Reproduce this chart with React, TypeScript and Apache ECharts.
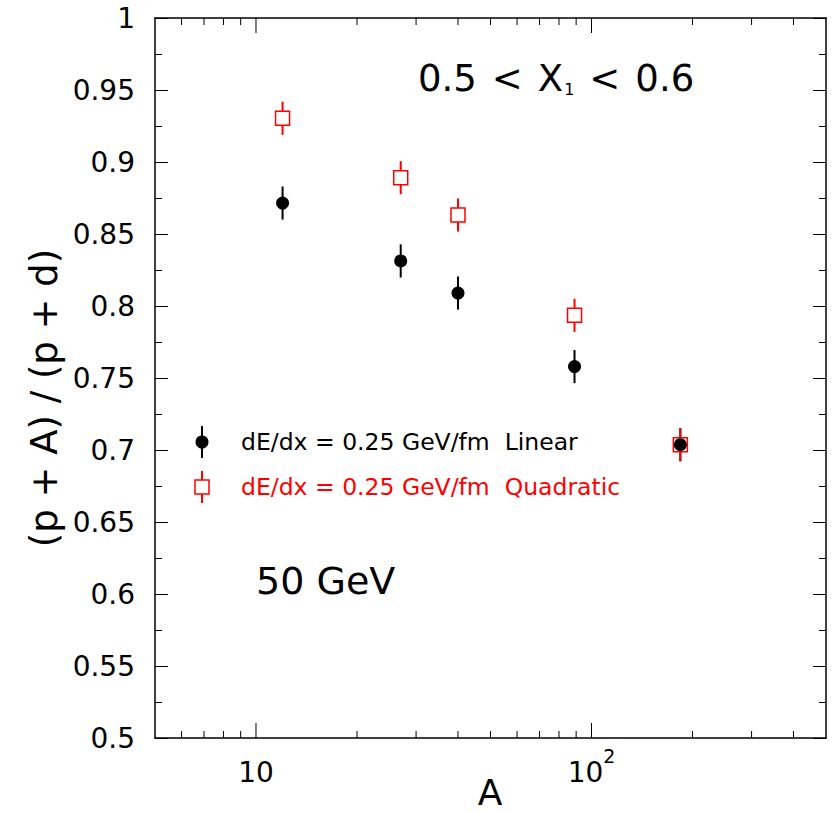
import React, { useEffect, useRef } from "react";
import * as echarts from "echarts";

const massNumbers = [12, 27, 40, 89, 184];
const linearValues = [0.8715, 0.8313, 0.809, 0.7579, 0.7037];
const linearErrors = [0.0115, 0.0115, 0.0115, 0.0115, 0.0115];
const quadraticValues = [0.9304, 0.8891, 0.8632, 0.7935, 0.7037];
const quadraticErrors = [0.0115, 0.0115, 0.0115, 0.0115, 0.0115];
const xMinorTicks = [6, 7, 8, 9, 20, 30, 40, 50, 60, 70, 80, 90, 200, 300, 400];
const xMajorTicks = [10, 100];
const legendLabels = ["dE/dx = 0.25 GeV/fm  Linear", "dE/dx = 0.25 GeV/fm  Quadratic"];

const FONT = "DejaVu Sans";

export default function App() {
  const ref = useRef<HTMLDivElement>(null);
  useEffect(() => {
    if (!ref.current) return;
    const chart = echarts.init(ref.current, null, { renderer: "svg" });
    const tickData = [
      ...xMinorTicks.map((v) => [v, 0.75, 7]),
      ...xMajorTicks.map((v) => [v, 0.75, 15]),
    ];
    const errItem = (color: string) => (params: any, api: any) => {
      const x = api.value(0);
      const y = api.value(1);
      const e = api.value(2);
      const p1 = api.coord([x, y - e]);
      const p2 = api.coord([x, y + e]);
      return {
        type: "line",
        shape: { x1: p1[0], y1: p1[1], x2: p2[0], y2: p2[1] },
        style: { stroke: color, lineWidth: 2 },
      };
    };
    const yAxisCommon = {
      type: "value",
      min: 0.5,
      max: 1,
      interval: 0.05,
      axisLine: { show: true, lineStyle: { color: "#000", width: 1.5 } },
      axisTick: { show: true, inside: true, length: 13, lineStyle: { color: "#000", width: 1 } },
      minorTick: { show: true, splitNumber: 2, length: 7, lineStyle: { color: "#000", width: 1 } },
      splitLine: { show: false },
      minorSplitLine: { show: false },
    };
    const xAxisCommon = {
      type: "log",
      logBase: 10,
      min: 5,
      max: 500,
      axisLine: { show: true, onZero: false, lineStyle: { color: "#000", width: 1.5 } },
      axisTick: { show: false },
      splitLine: { show: false },
    };
    chart.setOption({
      animation: false,
      grid: { left: 155, right: 6, top: 18, bottom: 75, containLabel: false },
      xAxis: [
        {
          ...xAxisCommon,
          position: "bottom",
          axisLabel: {
            show: true,
            margin: 8,
            fontFamily: FONT,
            fontSize: 28,
            color: "#000",
            formatter: (val: number) => {
              if (Math.abs(val - 10) < 1e-6) return "{base|10}";
              if (Math.abs(val - 100) < 1e-6) return "{base|10}{sup|2}";
              return "";
            },
            rich: {
              base: { fontFamily: FONT, fontSize: 28, color: "#000", lineHeight: 40, verticalAlign: "bottom" },
              sup: { fontFamily: FONT, fontSize: 19, color: "#000", verticalAlign: "top" },
            },
          },
        },
        { ...xAxisCommon, position: "top", axisLabel: { show: false } },
      ],
      yAxis: [
        {
          ...yAxisCommon,
          position: "left",
          axisLabel: { show: true, margin: 20, fontFamily: FONT, fontSize: 28, color: "#000" },
        },
        { ...yAxisCommon, position: "right", axisLabel: { show: false } },
      ],
      series: [
        {
          type: "custom",
          xAxisIndex: 0,
          yAxisIndex: 0,
          clip: false,
          silent: true,
          data: tickData,
          renderItem: (params: any, api: any) => {
            const v = api.value(0);
            const len = api.value(2);
            const b = api.coord([v, 0.5]);
            const t = api.coord([v, 1]);
            return {
              type: "group",
              children: [
                { type: "line", shape: { x1: b[0], y1: b[1], x2: b[0], y2: b[1] - len }, style: { stroke: "#000", lineWidth: 1 } },
                { type: "line", shape: { x1: t[0], y1: t[1], x2: t[0], y2: t[1] + len }, style: { stroke: "#000", lineWidth: 1 } },
              ],
            };
          },
          z: 1,
        },
        {
          type: "custom",
          name: "linErr",
          data: massNumbers.map((a, i) => [a, linearValues[i], linearErrors[i]]),
          renderItem: errItem("#000"),
          z: 2,
        },
        {
          type: "custom",
          name: "quadErr",
          data: massNumbers.map((a, i) => [a, quadraticValues[i], quadraticErrors[i]]),
          renderItem: errItem("#ff0000"),
          z: 3,
        },
        {
          type: "scatter",
          name: "Quadratic",
          data: massNumbers.map((a, i) => [a, quadraticValues[i]]),
          symbol: "rect",
          symbolSize: 14,
          itemStyle: { color: "#fff", borderColor: "#ff0000", borderWidth: 1.5, opacity: 1 },
          z: 4,
        },
        {
          type: "scatter",
          name: "Linear",
          data: massNumbers.map((a, i) => [a, linearValues[i]]),
          symbol: "circle",
          symbolSize: 13,
          itemStyle: { color: "#000", opacity: 1 },
          z: 5,
        },
      ],
      graphic: [
        {
          type: "text",
          x: 44,
          y: 398,
          rotation: Math.PI / 2,
          style: {
            text: "(p + A) / (p + d)",
            fontFamily: FONT,
            fontSize: 37,
            fill: "#000",
            align: "center",
            verticalAlign: "middle",
          },
        },
        {
          type: "text",
          x: 490,
          y: 792,
          style: {
            text: "A",
            fontFamily: FONT,
            fontSize: 36,
            fill: "#000",
            align: "center",
            verticalAlign: "middle",
          },
        },
        {
          type: "text",
          x: 418,
          y: 78,
          style: {
            text: "{t|0.5}{lt|<}{t|X}{sub|1}{lt|<}{t|0.6}",
            fontFamily: FONT,
            fontSize: 37,
            fill: "#000",
            align: "left",
            verticalAlign: "middle",
            rich: {
              t: { fontFamily: FONT, fontSize: 37, fill: "#000", lineHeight: 46, verticalAlign: "middle" },
              lt: { fontFamily: FONT, fontSize: 37, fill: "#000", lineHeight: 46, verticalAlign: "middle", padding: [0, 15, 0, 15] },
              sub: { fontFamily: FONT, fontSize: 16, fill: "#000", verticalAlign: "bottom", padding: [0, 0, 4, 1] },
            },
          },
        },
        {
          type: "text",
          x: 256,
          y: 581,
          style: { text: "50 GeV", fontFamily: FONT, fontSize: 38, fill: "#000", align: "left", verticalAlign: "middle" },
        },
        { type: "line", shape: { x1: 202, y1: 426, x2: 202, y2: 458 }, style: { stroke: "#000", lineWidth: 2 } },
        { type: "circle", shape: { cx: 202, cy: 442, r: 6.5 }, style: { fill: "#000" } },
        {
          type: "text",
          x: 241,
          y: 442,
          style: { text: legendLabels[0], fontFamily: FONT, fontSize: 23.5, fill: "#000", align: "left", verticalAlign: "middle" },
        },
        { type: "line", shape: { x1: 202, y1: 471, x2: 202, y2: 503 }, style: { stroke: "#ff0000", lineWidth: 2 } },
        { type: "rect", shape: { x: 195, y: 480, width: 14, height: 14 }, style: { fill: "#fff", stroke: "#ff0000", lineWidth: 1.5 } },
        {
          type: "text",
          x: 241,
          y: 487,
          style: { text: legendLabels[1], fontFamily: FONT, fontSize: 23.5, fill: "#ff0000", align: "left", verticalAlign: "middle" },
        },
      ],
    });
    return () => chart.dispose();
  }, []);
  return <div ref={ref} style={{ position: "fixed", left: 0, top: 0, width: 832, height: 813, background: "#fff" }} />;
}
